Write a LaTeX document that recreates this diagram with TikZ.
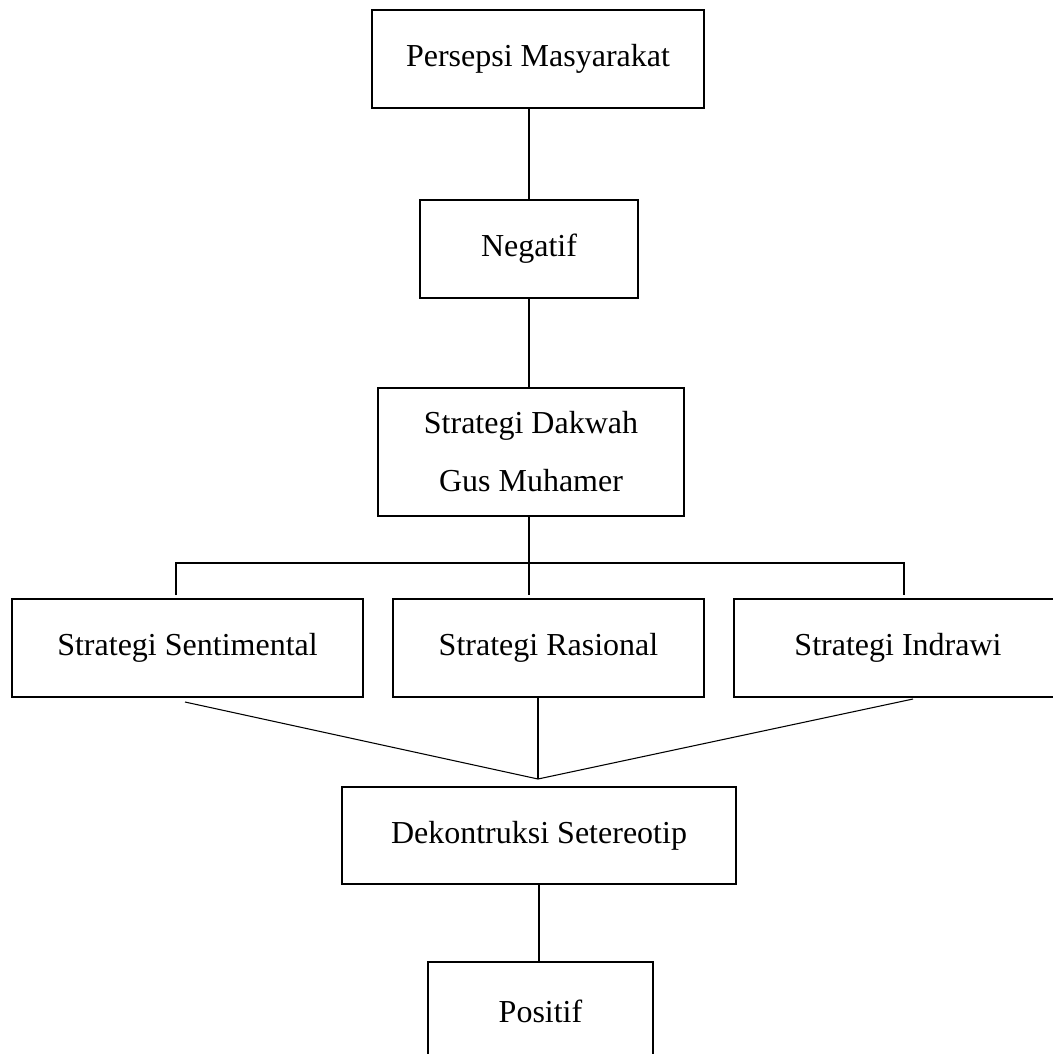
\documentclass[tikz,border=0pt]{standalone}
\usepackage{fontspec}
\setmainfont{Liberation Serif}
\usepackage{tikz}
\usetikzlibrary{calc,positioning}
\tikzset{
  box/.style={draw=black, line width=1.4pt, align=center, fill=white,
    inner sep=0pt, minimum height=73.5pt,
    font=\fontsize{24pt}{43.5pt}\selectfont},
  link/.style={draw=black, line width=0.8pt}
}
\begin{document}
\begin{tikzpicture}[x=0.75pt, y=-0.75pt]
  \useasboundingbox (0,0) rectangle (1053,1054);
  \node[box, minimum width=249pt] (persepsi) at (538,59) {Persepsi Masyarakat};
  \node[box, minimum width=163.5pt] (negatif) at (529,249) {Negatif};
  \node[box, minimum width=229.5pt, minimum height=96pt] (dakwah) at (531,452) {Strategi Dakwah\\Gus Muhamer};

  \node[box, minimum width=263.25pt] (sentimental) at (187.5,648) {Strategi Sentimental};
  \node[box, minimum width=233.25pt] (rasional) at (548.5,648) {Strategi Rasional};
  \node[box, minimum width=246pt] (indrawi) at (898,648) {Strategi Indrawi};

  \node[box, minimum width=295.5pt, minimum height=72.75pt] (dekon) at (539,835.5) {Dekontruksi Setereotip};
  \node[box, minimum width=168.75pt] (positif) at (540.5,1011) {Positif};

  \draw[link] (negatif.north) -- (negatif.north |- persepsi.south);
  \draw[link] (negatif.south) -- (negatif.south |- dakwah.north);

  % bus to the three strategies
  \coordinate (bus) at (529,563);
  \draw[link] (bus |- dakwah.south) -- (bus);
  \draw[link] (176,595) |- (bus) -| (904,595);
  \draw[link] (bus) -- (529,595);

  % join into Dekontruksi
  \coordinate (join) at (538,779);
  \draw[link] (rasional.south -| join) -- (join);
  \draw[link] (185,702) -- (join);
  \draw[link] (913,699) -- (join);

  \draw[link] (dekon.south) -- (dekon.south |- positif.north);
\end{tikzpicture}
\end{document}
